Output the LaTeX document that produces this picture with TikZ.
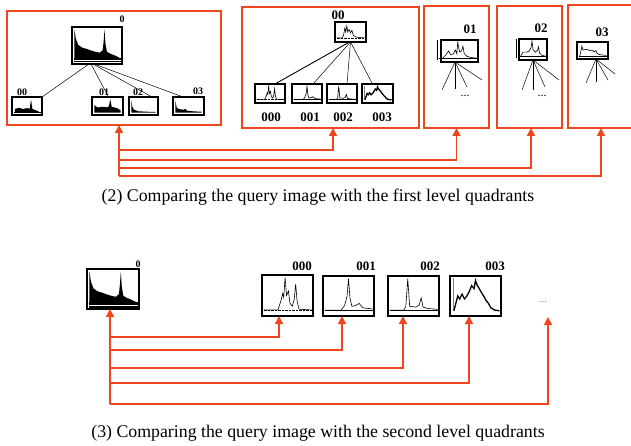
\documentclass[tikz,border=0pt]{standalone}
\usepackage{fontspec}
\setmainfont{Liberation Serif}
\usetikzlibrary{arrows.meta}
\definecolor{myred}{RGB}{240,70,30}
\tikzset{
  hbox/.style={draw=black,line width=2.3pt,inner sep=0pt,outer sep=0pt},
  rbox/.style={draw=myred,line width=1.8pt,inner sep=0pt,outer sep=0pt},
  lab/.style={font=\bfseries\fontsize{13}{13}\selectfont,inner sep=0pt},
  slab/.style={font=\bfseries\fontsize{10}{10}\selectfont,inner sep=0pt},
  captext/.style={font=\fontsize{17.8}{17.8}\selectfont,inner sep=0pt},
  arr/.style={draw=myred,line width=1.6pt,-{Triangle[length=8pt,width=8pt]}},
  tline/.style={draw=black,line width=0.5pt},
}
% histogram box: name, x1, y1, x2, y2, content
\newcommand\hb[6]{%
  \node[hbox,minimum width={(#4-#2)*1pt},minimum height={(#5-#3)*1pt}] (#1) at ({(#2+#4)/2},{(#3+#5)/2}) {};
  \pgfmathsetmacro\hbw{#4-#2-3}\pgfmathsetmacro\hbh{#5-#3-3}%
  \begin{scope}[shift={(#1.south west)},xshift=1.5pt,yshift=1.5pt,x=\hbw pt,y=\hbh pt]#6\end{scope}}
\newcommand\rb[5]{%
  \node[rbox,minimum width={(#4-#2)*1pt},minimum height={(#5-#3)*1pt}] (#1) at ({(#2+#4)/2},{(#3+#5)/2}) {};}
% contents
\newcommand\HQ{%
  \fill (0,0) rectangle (1,0.14);
  \draw[white,line width=0.8pt] (0,0.07)--(1,0.07);
  \fill (0.02,0.13)--(0.02,0.97)--(0.05,0.7)--(0.1,0.52)--(0.18,0.44)--(0.28,0.4)--(0.38,0.35)--(0.48,0.31)--(0.56,0.29)--(0.62,0.36)--(0.64,0.6)--(0.66,0.97)--(0.68,0.55)--(0.71,0.32)--(0.78,0.26)--(0.86,0.22)--(0.92,0.18)--(0.97,0.15)--(0.97,0.13)--cycle;}
\newcommand\HfA{%
  \fill (0,0) rectangle (1,0.12);
  \fill (0.05,0.1)--(0.05,0.3)--(0.2,0.38)--(0.35,0.3)--(0.5,0.36)--(0.6,0.32)--(0.65,0.92)--(0.7,0.3)--(0.85,0.2)--(0.95,0.12)--(0.95,0.1)--cycle;}
\newcommand\HfB{%
  \fill (0.03,0.05)--(0.03,0.55)--(0.15,0.4)--(0.35,0.45)--(0.5,0.4)--(0.55,0.5)--(0.6,0.95)--(0.65,0.45)--(0.85,0.35)--(0.97,0.2)--(0.97,0.05)--cycle;}
\newcommand\HfC{%
  \fill (0.03,0.05)--(0.03,0.9)--(0.07,0.45)--(0.14,0.25)--(0.3,0.15)--(0.6,0.12)--(0.97,0.1)--(0.97,0.05)--cycle;}
\newcommand\HfD{%
  \fill (0.03,0.05)--(0.03,0.85)--(0.08,0.4)--(0.15,0.3)--(0.3,0.25)--(0.4,0.3)--(0.45,0.18)--(0.7,0.14)--(0.97,0.12)--(0.97,0.05)--cycle;}
\newcommand\HLa{%
  \draw[densely dotted,line width=0.4pt] (0,0.12)--(1,0.12);
  \draw[line width=0.6pt] (0,0.12)--(0.3,0.12)--(0.36,0.35)--(0.4,0.55)--(0.42,0.45)--(0.45,0.97)--(0.48,0.5)--(0.52,0.62)--(0.55,0.3)--(0.6,0.22)--(0.64,0.4)--(0.67,0.8)--(0.7,0.35)--(0.74,0.14)--(1,0.12);}
\newcommand\HLb{%
  \draw[line width=0.8pt] (0,0.12)--(1,0.12);
  \draw[line width=0.6pt] (0,0.12)--(0.35,0.12)--(0.42,0.25)--(0.47,0.5)--(0.5,0.97)--(0.53,0.45)--(0.57,0.22)--(0.65,0.24)--(0.72,0.3)--(0.8,0.18)--(1,0.15);}
\newcommand\HLc{%
  \draw[line width=0.8pt] (0,0.12)--(1,0.12);
  \draw[line width=0.6pt] (0,0.12)--(0.3,0.12)--(0.34,0.22)--(0.38,0.97)--(0.42,0.22)--(0.55,0.2)--(0.62,0.26)--(0.66,0.45)--(0.7,0.2)--(0.8,0.16)--(1,0.14);}
\newcommand\HLd{%
  \draw[gray,line width=0.6pt] (0.04,0.1)--(0.04,0.98);
  \draw[line width=1.3pt] (0.05,0.1)--(0.09,0.3)--(0.13,0.5)--(0.17,0.42)--(0.22,0.55)--(0.27,0.42)--(0.32,0.5)--(0.37,0.62)--(0.42,0.78)--(0.47,0.7)--(0.5,0.92)--(0.53,0.8)--(0.57,0.72)--(0.62,0.6)--(0.67,0.5)--(0.72,0.38)--(0.77,0.3)--(0.82,0.18)--(0.9,0.12)--(1,0.1);}
\newcommand\HLz{%
  \draw[densely dotted,line width=0.4pt] (0,0.15)--(1,0.15);
  \draw[line width=0.6pt] (0,0.15)--(0.2,0.15)--(0.25,0.3)--(0.3,0.75)--(0.33,0.5)--(0.37,0.85)--(0.4,0.5)--(0.45,0.65)--(0.5,0.45)--(0.55,0.6)--(0.6,0.3)--(0.7,0.2)--(1,0.15);}
\newcommand\HLo{%
  \draw[line width=0.6pt] (-0.1,0.12)--(1,0.12);
  \draw[line width=0.6pt] (0,0.12)--(0.1,0.3)--(0.18,0.5)--(0.24,0.3)--(0.32,0.35)--(0.38,0.55)--(0.42,0.35)--(0.45,0.97)--(0.5,0.45)--(0.56,0.5)--(0.6,0.75)--(0.64,0.35)--(0.72,0.22)--(0.85,0.15)--(1,0.13);}
\newcommand\HLt{%
  \draw[line width=0.6pt] (-0.1,0.12)--(1,0.12);
  \draw[line width=0.6pt] (0,0.12)--(0.1,0.35)--(0.25,0.35)--(0.35,0.42)--(0.42,0.6)--(0.46,0.97)--(0.5,0.5)--(0.6,0.35)--(0.68,0.45)--(0.72,0.65)--(0.76,0.3)--(0.85,0.18)--(1,0.13);}
\newcommand\HLh{%
  \draw[line width=0.6pt] (0,0.12)--(1,0.12);
  \draw[line width=0.6pt] (0.05,0.12)--(0.08,0.4)--(0.12,0.8)--(0.16,0.55)--(0.3,0.58)--(0.4,0.5)--(0.5,0.52)--(0.55,0.38)--(0.62,0.5)--(0.66,0.3)--(0.75,0.2)--(1,0.15);}
\begin{document}
\begin{tikzpicture}[x=1pt,y=-1pt]
\useasboundingbox (0,0) rectangle (631,446);
% ---------- top row ----------
\rb{b1}{7}{11}{221}{125}
\rb{b2}{242}{7}{419}{128}
\rb{b3}{424}{6}{489}{128}
\rb{b4}{497}{6}{562}{128}
\rb{b5}{568}{5}{636}{128}
% box 1
\hb{q1}{72}{27}{122}{64}{\HQ}
\node[slab] (lq1) at (122,19) {0};
\hb{c00}{12}{97}{42}{115}{\HfA}
\hb{c01}{92}{97}{123}{115}{\HfB}
\hb{c02}{129}{97}{158}{115}{\HfC}
\hb{c03}{173}{97}{204}{115}{\HfD}
\node[slab] (l00) at (22,92) {00};
\node[slab] (l01) at (104,92) {01};
\node[slab] (l02) at (138,92) {02};
\node[slab] (l03) at (198,91) {03};
\draw[tline] ([xshift=-8pt]q1.south) -- (c00.north east);
\draw[tline] ([xshift=-6pt]q1.south) -- ([xshift=1pt]c01.north);
\draw[tline] ([xshift=-4pt]q1.south) -- ([xshift=-6pt]c02.north east);
\draw[tline] ([xshift=-3pt]q1.south) -- ([xshift=10pt]c03.north west);
% box 2
\hb{n00}{335}{22}{366}{42}{\HLz}
\node[lab] (ln00) at (338,15) {00};
\hb{e000}{255}{84}{285}{103}{\HLa}
\hb{e001}{292}{84}{322}{103}{\HLb}
\hb{e002}{327}{84}{357}{103}{\HLc}
\hb{e003}{362}{84}{393}{103}{\HLd}
\node[lab] (le000) at (271,117) {000};
\node[lab] (le001) at (310,117) {001};
\node[lab] (le002) at (343,117) {002};
\node[lab] (le003) at (382,117) {003};
\draw[draw=black,line width=0.9pt] ([xshift=-1pt]n00.south) -- ([xshift=-10pt]e000.north east);
\draw[tline] (n00.south) -- ([xshift=-9pt]e001.north east);
\draw[tline] (n00.south) -- ([xshift=5pt]e002.north);
\draw[tline] (n00.south) -- ([xshift=-5pt]e003.north);
% box 3
\hb{n01}{441}{40}{478}{62}{\HLo}
\draw[tline] (437,40) -- (437,60);
\node[lab] (ln01) at (470,29) {01};
\coordinate (o1) at (455,62);
\draw[tline] (o1) -- (442,90);
\draw[tline] (o1) -- (455,89);
\draw[tline] (o1) -- (467,87);
\draw[tline] (o1) -- (482,80);
\node[inner sep=0pt,font=\fontsize{12}{12}\selectfont] (dd1) at (465,96) {...};
% box 4
\hb{n02}{519}{39}{547}{60}{\HLt}
\draw[tline] (516,39) -- (516,58);
\node[lab] (ln02) at (541,28) {02};
\coordinate (o2) at (533,60);
\draw[tline] (o2) -- (522,90);
\draw[tline] (o2) -- (533,90);
\draw[tline] (o2) -- (545,87);
\draw[tline] (o2) -- (559,80);
\node[inner sep=0pt,font=\fontsize{12}{12}\selectfont] (dd2) at (542,96) {...};
% box 5
\hb{n03}{577}{42}{608}{59}{\HLh}
\node[lab] (ln03) at (602,32) {03};
\coordinate (o3) at (596,59);
\draw[tline] (o3) -- (586,83);
\draw[tline] (o3) -- (596,82);
\draw[tline] (o3) -- (608,80);
\draw[tline] (o3) -- (615,74);
% top arrows
\coordinate (tb) at (119,176);
\coordinate (t1) at (119,150);
\coordinate (t2) at (119,160);
\coordinate (t3) at (119,168);
\draw[arr] (tb) -- (tb |- b1.south);
\draw[arr] (t1) -| ([xshift=2.5pt]b2.south);
\draw[arr] (t2) -| (b3.south);
\draw[arr] (t3) -| ([xshift=1.5pt]b4.south);
\draw[arr] (tb) -| ([xshift=-1pt]b5.south);
\node[captext] (cap2) at (318,197) {(2) Comparing the query image with the first level quadrants};
% ---------- bottom row ----------
\hb{q2}{87}{269}{139}{309}{\HQ}
\node[slab] (lq2) at (138,264) {0};
\hb{d000}{262}{275}{313}{316}{\HLa}
\hb{d001}{323}{276}{374}{316}{\HLb}
\hb{d002}{388}{276}{439}{316}{\HLc}
\hb{d003}{450}{276}{501}{316}{\HLd}
\node[lab] (ld000) at (302,266) {000};
\node[lab] (ld001) at (366,266) {001};
\node[lab] (ld002) at (430,266) {002};
\node[lab] (ld003) at (495,266) {003};
\node[inner sep=0pt,text=gray,font=\fontsize{10}{10}\selectfont] (dots) at (543,302) {...};
\coordinate (dt) at (548,317);
\coordinate (ub) at (110,404);
\coordinate (u1) at (110,337);
\coordinate (u2) at (110,350);
\coordinate (u3) at (110,368);
\coordinate (u4) at (110,383);
\draw[arr] (ub) -- (ub |- q2.south);
\draw[arr] (u1) -| ([xshift=-8.5pt]d000.south);
\draw[arr] (u2) -| ([xshift=-6.5pt]d001.south);
\draw[arr] (u3) -| ([xshift=-10.5pt]d002.south);
\draw[arr] (u4) -| ([xshift=-6.5pt]d003.south);
\draw[arr] (ub) -| (dt);
\node[captext] (cap3) at (318,433) {(3) Comparing the query image with the second level quadrants};
\end{tikzpicture}
\end{document}
